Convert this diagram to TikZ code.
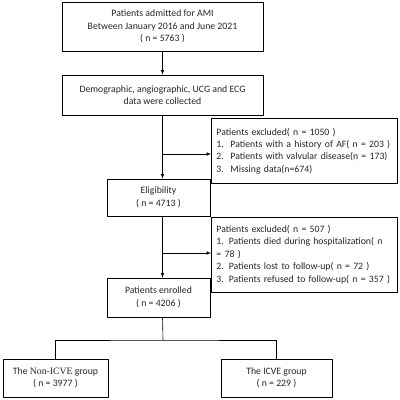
\documentclass[tikz,border=0pt]{standalone}
\usepackage{fontspec}
\setmainfont{Carlito}
\newfontfamily\tnr{Liberation Serif}
\usetikzlibrary{arrows.meta}
\tikzset{> = latex, color=black!85}
\tikzset{
	box/.style={draw,line width=.6pt,inner sep=2pt,align=center,font=\fontsize{9.8}{12.5}\selectfont},
	exbox/.style={box,align=left,inner xsep=5bp,text width=176bp},
	link/.style={line width=.6pt}
}
\begin{document}
\begin{tikzpicture}[x=1bp,y=-1bp]
	\useasboundingbox (0,0) rectangle (400,400);
	\node[box,minimum width=201bp,minimum height=49bp](admit) at (162.5,26.5){Patients admitted for AMI\\Between January 2016 and June 2021\\( n = 5763 )};
	\node[box,minimum width=201bp,minimum height=40bp](collect) at (162.5,95){Demographic, angiographic, UCG and ECG\\data were collected};
	\node[exbox,minimum width=186bp,minimum height=65bp](excl1) at (304.5,151){Patients excluded( n = 1050 )\\\makebox[14bp][l]{1.}Patients with a history of AF( n = 203 )\\\makebox[14bp][l]{2.}Patients with valvular disease(n = 173)\\\makebox[14bp][l]{3.}Missing data(n=674)};
	\node[box,minimum width=103bp,minimum height=37bp](elig) at (158.5,197.5){Eligibility\\( n = 4713 )};
	\node[exbox,minimum width=186bp,minimum height=75bp](excl2) at (304.5,254.5){Patients excluded( n = 507 )\\\makebox[174bp][s]{1. Patients died during hospitalization( n}\\= 78 )\\2. Patients lost to follow-up( n = 72 )\\3. Patients refused to follow-up( n = 357 )};
	\node[box,minimum width=103bp,minimum height=39bp](enrol) at (158.5,297.5){Patients enrolled\\( n = 4206 )};
	\node[box,minimum width=105bp,minimum height=38bp](nonicve) at (55.5,378){The {\tnr Non-ICVE} group\\( n = 3977 )};
	\node[box,minimum width=111bp,minimum height=38bp](icve) at (276.5,378){The ICVE group\\( n = 229 )};
	\coordinate (br1) at (163,154);
	\coordinate (br2) at (163,253);
	\coordinate (split) at (163,340);
	\draw[link,->](admit.south)--(collect.north);
	\draw[link,->](collect.south)--(collect.south|-elig.north);
	\draw[link,->](br1)--(br1-|excl1.west);
	\draw[link,->](collect.south|-elig.south)--(collect.south|-enrol.north);
	\draw[link,->](br2)--(br2-|excl2.west);
	\draw[link](collect.south|-enrol.south)--(split);
	\draw[link](nonicve.north)|-(split)-|(icve.north);
\end{tikzpicture}
\end{document}
